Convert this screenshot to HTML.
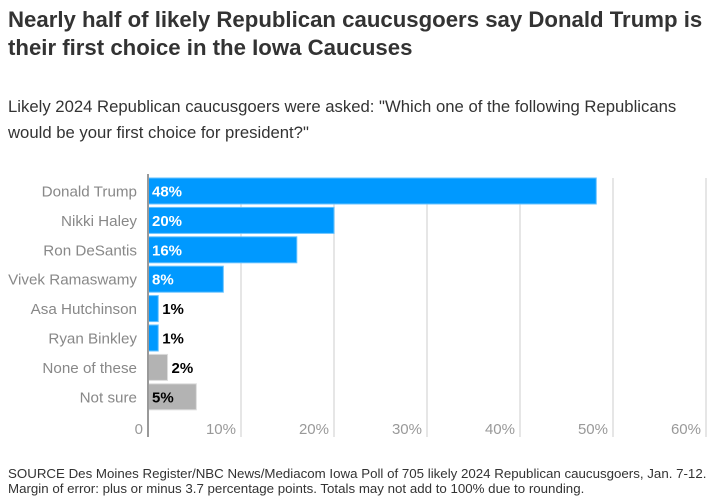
<!DOCTYPE html>
<html><head><meta charset="utf-8"><style>
body{margin:0;width:716px;height:503px;background:#fff;font-family:"Liberation Sans",sans-serif;overflow:hidden;position:relative}
.t{position:absolute;left:8px;top:6px;font-size:22.2px;font-weight:bold;color:#333;line-height:28px;width:710px}
.s{position:absolute;left:8px;top:94px;font-size:16.7px;color:#333;line-height:26px;white-space:nowrap}
.src{position:absolute;left:8px;top:466px;font-size:13.3px;color:#333;line-height:15px;white-space:nowrap}
</style></head><body>
<div class="t">Nearly half of likely Republican caucusgoers say Donald Trump is their first choice in the Iowa Caucuses</div>
<div class="s">Likely 2024 Republican caucusgoers were asked: "Which one of the following Republicans<br>would be your first choice for president?"</div>
<svg id="c" width="716" height="503" style="position:absolute;left:0;top:0"></svg>
<div class="src">SOURCE Des Moines Register/NBC News/Mediacom Iowa Poll of 705 likely 2024 Republican caucusgoers, Jan. 7-12.<br>Margin of error: plus or minus 3.7 percentage points. Totals may not add to 100% due to rounding.</div>
<script>
const categories=["Donald Trump","Nikki Haley","Ron DeSantis","Vivek Ramaswamy","Asa Hutchinson","Ryan Binkley","None of these","Not sure"];
const values=[48.2,20,16,8.1,1.1,1.1,2.1,5.2];
const valueLabels=["48%","20%","16%","8%","1%","1%","2%","5%"];
const isGray=[false,false,false,false,false,false,true,true];
const ticks=[0,10,20,30,40,50,60];
const tickLabels=["0","10%","20%","30%","40%","50%","60%"];
const NS="http://www.w3.org/2000/svg",svg=document.getElementById('c');
const x0=148,pxPer=9.3,yTop=178,pitch=29.4,bh=26;
const x=v=>x0+v*pxPer, y=i=>yTop+i*pitch;
function mk(t,a,p){const e=document.createElementNS(NS,t);for(const k in a)e.setAttribute(k,a[k]);(p||svg).appendChild(e);return e;}
ticks.forEach((t,i)=>{
 if(t>0){const g=mk('line',{x1:x(t),x2:x(t),y1:yTop,y2:437,stroke:'#ddd','stroke-width':1.5});
 
 }
 const tl=mk('text',{x:x(t)-5,y:434,'text-anchor':'end','font-size':15,fill:'#999','font-family':'Liberation Sans, sans-serif'});
 tl.textContent=tickLabels[i];
 
 
});
categories.forEach((c,i)=>{
 const yy=y(i);
 const l=mk('text',{x:137,y:yy+bh/2+5.5,'text-anchor':'end','font-size':15.2,fill:'#888','font-family':'Liberation Sans, sans-serif'});
 l.textContent=c;
 
 
 const b=mk('rect',{x:x0,y:yy,width:values[i]*pxPer,height:bh,fill:isGray[i]?'#b3b3b3':'#0099ff',stroke:isGray[i]?'#ddd':'#66c2ff','stroke-width':1});
 
 
 const w=values[i]*pxPer, inside=w>40;
 const v=mk('text',{x:inside?x0+4:x(values[i])+4,y:yy+bh/2+5.5,'font-size':15,'font-weight':'bold',fill:inside&&!isGray[i]?'#fff':'#000','font-family':'Liberation Sans, sans-serif'});
 v.textContent=valueLabels[i];
 
 
});
const ax=mk('line',{x1:x0,x2:x0,y1:yTop-4,y2:437,stroke:'#999','stroke-width':2});


</script>
</body></html>
